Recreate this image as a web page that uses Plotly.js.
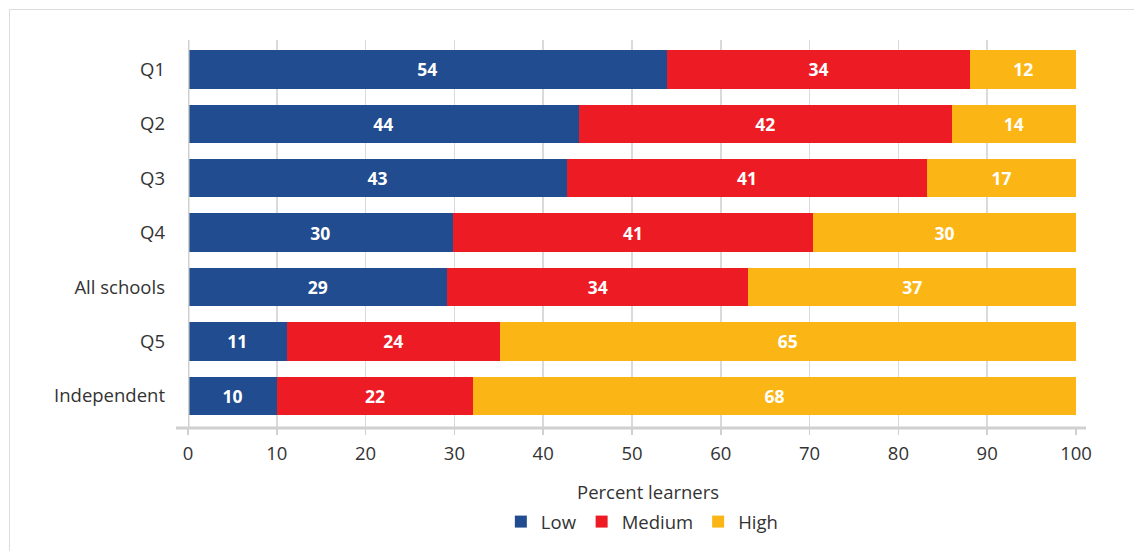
<!DOCTYPE html>
<html>
<head>
<meta charset="utf-8">
<script src="https://cdn.plot.ly/plotly-3.0.1.min.js"></script>
<style>
html,body{margin:0;padding:0;background:#fff;}
#frame{position:absolute;left:9px;top:9px;width:1125px;height:542px;border:1px solid #dcdcdc;border-right:none;border-bottom:none;box-sizing:border-box;}
#chart{position:absolute;left:0;top:0;width:1134px;height:551px;}
</style>
</head>
<body>
<div id="frame"></div>
<div id="chart"></div>
<script>
const categories = ["Q1", "Q2", "Q3", "Q4", "All schools", "Q5", "Independent"];
const lowValues = [53.9, 44.0, 42.7, 29.8, 29.2, 11.1, 10.0];
const mediumValues = [34.2, 42.0, 40.5, 40.6, 33.9, 24.0, 22.1];
const highValues = [11.9, 14.0, 16.8, 29.6, 36.9, 64.9, 67.9];
const lowLabels = ["54", "44", "43", "30", "29", "11", "10"];
const mediumLabels = ["34", "42", "41", "41", "34", "24", "22"];
const highLabels = ["12", "14", "17", "30", "37", "65", "68"];
const xTicks = [0, 10, 20, 30, 40, 50, 60, 70, 80, 90, 100];

const FONT = "Open Sans, Noto Sans, sans-serif";
const labelFont = {family: FONT, size: 17.5, color: "#ffffff", weight: 700};
const textFont = {family: FONT, size: 18.5, color: "#333333"};

function series(name, vals, labels, color) {
  return {
    type: "bar", orientation: "h", name: name,
    y: categories, x: vals, text: labels,
    textposition: "inside", insidetextanchor: "middle",
    textfont: labelFont, constraintext: "none",
    marker: {color: color, line: {width: 0}},
    hoverinfo: "x+y+name"
  };
}

const data = [
  series("Low", lowValues, lowLabels, "#214c8f"),
  series("Medium", mediumValues, mediumLabels, "#ed1c24"),
  series("High", highValues, highLabels, "#fbb616")
];

const layout = {
  width: 1134, height: 551,
  paper_bgcolor: "rgba(0,0,0,0)", plot_bgcolor: "rgba(0,0,0,0)",
  margin: {l: 188, r: 58, t: 40, b: 123, pad: 0, autoexpand: false},
  barmode: "stack", bargap: 0.296,
  font: textFont,
  showlegend: true,
  legend: {orientation: "h", xref: "container", yref: "container",
           x: 0.566, xanchor: "center", y: 0.087, yanchor: "top",
           font: textFont, traceorder: "normal",
           itemwidth: 30, tracegroupgap: 0},
  xaxis: {
    range: [0, 100], tickvals: xTicks, ticktext: xTicks.map(String),
    showgrid: true, gridcolor: "#dadada", gridwidth: 1.5,
    zeroline: false, showline: false,
    ticks: "outside", ticklen: 6, tickcolor: "#d0d0d0", tickwidth: 1.5,
    ticklabelstandoff: 3,
    tickfont: textFont,
    fixedrange: true, automargin: false
  },
  yaxis: {
    range: [6.59, -0.54], categoryorder: "array", categoryarray: categories,
    showgrid: false, zeroline: false, showline: false, ticks: "",
    ticklabelstandoff: 22, automargin: false,
    tickfont: textFont,
    fixedrange: true
  },
  shapes: [
    {type: "line", xref: "paper", yref: "paper", x0: -0.0135, x1: 1.0113, y0: 0, y1: 0,
     line: {color: "#d0d0d0", width: 3}, layer: "above"},
    {type: "line", xref: "x", yref: "paper", x0: 0, x1: 0, y0: 0, y1: 1,
     line: {color: "#d0d0d0", width: 3}, layer: "above"}
  ],
  annotations: [
    {text: "Percent learners", xref: "paper", yref: "paper", x: 0.518, y: -0.163,
     xanchor: "center", yanchor: "middle", showarrow: false,
     font: textFont}
  ]
};

Plotly.newPlot("chart", data, layout, {displayModeBar: false, staticPlot: true});
</script>
</body>
</html>
